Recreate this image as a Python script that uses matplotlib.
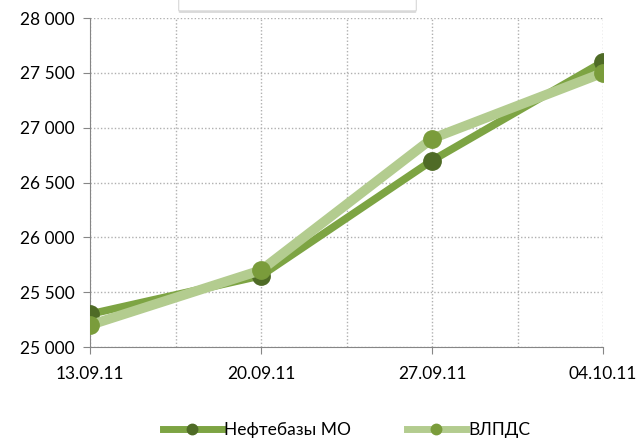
import numpy as np
import matplotlib.pyplot as plt
import matplotlib.patheffects as pe
from matplotlib.patches import FancyBboxPatch

plt.rcParams['font.family'] = ['Lato', 'DejaVu Sans']

dates = ["13.09.11", "20.09.11", "27.09.11", "04.10.11"]
neftebazy = [25300, 25650, 26700, 27600]
vlpds = [25200, 25700, 26900, 27500]
yticks = [25000, 25500, 26000, 26500, 27000, 27500, 28000]
ytick_labels = ["25 000", "25 500", "26 000", "26 500", "27 000", "27 500", "28 000"]

fig = plt.figure(figsize=(6.43, 4.41), dpi=100)
ax = fig.add_axes([90 / 643, 1 - 347 / 441, (603 - 90) / 643, (347 - 18) / 441])

x = np.arange(len(dates))

ax.plot(x, neftebazy, color="#7da443", linewidth=5.5, marker="o", markersize=12.5,
        markerfacecolor="#4f6b26", markeredgecolor="#4f6b26", label="Нефтебазы МО",
        zorder=3)
ax.plot(x, vlpds, color="#b3cc8f", linewidth=7, marker="o", markersize=12.5,
        markerfacecolor="#7a9c3b", markeredgecolor="#7a9c3b", label="ВЛПДС",
        zorder=4)

ax.set_xlim(0, len(dates) - 1)
ax.set_ylim(25000, 28000)
ax.set_yticks(yticks)
ax.set_yticklabels(ytick_labels)
ax.set_xticks(x)
ax.set_xticklabels(dates)
ax.set_xticks(np.arange(0.5, len(dates) - 1, 1), minor=True)
ax.tick_params(axis="x", which="minor", length=0)
ax.tick_params(axis="both", which="major", labelsize=12.5, color="#868686", length=5)
ax.tick_params(axis="x", pad=9)
ax.tick_params(axis="y", pad=6)

ax.grid(True, which="both", linestyle=(0, (1, 1.5)), color="#b0b0b0", linewidth=1)
ax.set_axisbelow(True)
for side in ["top", "right"]:
    ax.spines[side].set_visible(False)
for side in ["left", "bottom"]:
    ax.spines[side].set_color("#868686")

leg = ax.legend(loc="upper center", bbox_to_anchor=(0.5, -0.18), ncol=2, frameon=False,
                fontsize=12.5, handlelength=3.4, handletextpad=0.15, columnspacing=3.2,
                markerscale=0.6)
for h in leg.legend_handles:
    h.set_linewidth(5)

# cut-off title box at the top
box = FancyBboxPatch((180 / 643, 1 - 10 / 441), 235 / 643, 20 / 441,
                     boxstyle="round,pad=0.002", transform=fig.transFigure,
                     facecolor="white", edgecolor="#d8d8d8", linewidth=0.8,
                     path_effects=[pe.SimplePatchShadow(offset=(0, -1.5), alpha=0.2), pe.Normal()])
fig.patches.append(box)

fig.savefig("out.png", dpi=100)
